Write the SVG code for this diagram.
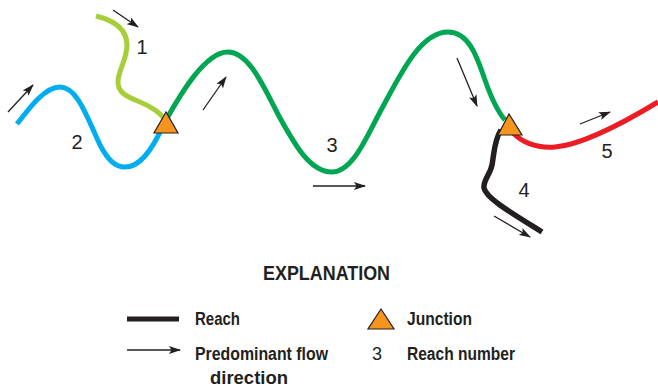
<svg xmlns="http://www.w3.org/2000/svg" width="658" height="389" viewBox="0 0 658 389">
<style>
.reach{fill:none;stroke-linecap:butt;stroke-linejoin:round}
.flow{stroke:#231f20;stroke-width:1.3;fill:none;marker-end:url(#ah)}
.junc{fill:#f7941d;stroke:#231f20;stroke-width:1.2;stroke-linejoin:miter}
.num{font-family:"Liberation Sans Narrow","Liberation Sans",Arial,sans-serif;font-size:20px;fill:#231f20;text-anchor:middle}
.leg{font-family:"Liberation Sans Narrow","Liberation Sans",Arial,sans-serif;font-size:18px;font-weight:bold;fill:#231f20}
</style>
<defs>
<marker id="ah" markerUnits="userSpaceOnUse" markerWidth="12" markerHeight="8" viewBox="0 0 12 8" refX="11" refY="4" orient="auto">
<path d="M0,0 L12,4 L0,8 L2.5,4 Z" fill="#231f20"/>
</marker>
</defs>
<g id="connectors">
<path id="reach2" class="reach" stroke="#00aeef" stroke-width="5" d="M17,124 C30,107 45,87 60,87 C78,87 88,120 100,145 C108,160 115,167 125,167 C140,167 152,150 163,126"/>
<path id="reach1" class="reach" stroke="#a6ce39" stroke-width="5" d="M96,16 C112,20 127,28 127,45 C127,60 118,70 118,82 C118,92 125,96 140,102 C152,107 160,112 165,120"/>
<path id="reach3" class="reach" stroke="#00a651" stroke-width="5" d="M166,120 C180,95 205,52 228,52 C250,52 265,90 280,118 C295,145 310,172 332,172 C352,172 365,140 380,112 C400,75 420,32 448,32 C470,32 478,60 485,80 C492,100 498,112 505,120"/>
<path id="reach5" class="reach" stroke="#ed1c24" stroke-width="5" d="M513,133 C525,145 540,148 555,147 C580,145 620,125 658,102"/>
<path id="reach4" class="reach" stroke="#231f20" stroke-width="5.5" d="M501,130 C494,140 494,155 492,165 C490,175 483,180 484,188 C486,198 510,212 542,232"/>
<line class="flow" x1="113" y1="10" x2="138" y2="27"/>
<line class="flow" x1="8" y1="112" x2="33" y2="85"/>
<line class="flow" x1="203" y1="110" x2="226" y2="77"/>
<line class="flow" x1="313" y1="186" x2="365" y2="186"/>
<line class="flow" x1="457" y1="58" x2="477" y2="106"/>
<line class="flow" x1="580" y1="124" x2="610" y2="112"/>
<line class="flow" x1="494" y1="216" x2="530" y2="237"/>
</g>
<g id="junction1"><polygon class="junc" points="166,112 154,133 178,133"/></g>
<g id="junction2"><polygon class="junc" points="509,114 498,135 522,135"/></g>
<g id="labels">
<text class="num" x="142" y="54">1</text>
<text class="num" x="77" y="149">2</text>
<text class="num" x="332" y="152">3</text>
<text class="num" x="524" y="197">4</text>
<text class="num" x="607" y="158">5</text>
</g>
<g id="legend">
<text class="leg" x="263" y="280" textLength="127" lengthAdjust="spacingAndGlyphs" style="font-size:21px">EXPLANATION</text>
<line x1="127" y1="319" x2="179" y2="319" stroke="#231f20" stroke-width="5"/>
<text class="leg" x="195" y="325" textLength="45" lengthAdjust="spacingAndGlyphs">Reach</text>
<polygon class="junc" points="381,309 368,329 394,329"/>
<text class="leg" x="407" y="325" textLength="65" lengthAdjust="spacingAndGlyphs">Junction</text>
<line class="flow" x1="127" y1="350" x2="180" y2="350"/>
<text class="leg" x="195" y="360" textLength="133" lengthAdjust="spacingAndGlyphs">Predominant flow</text>
<text class="leg" x="210" y="384" textLength="78" lengthAdjust="spacingAndGlyphs">direction</text>
<text class="num" x="377" y="360" style="font-size:18px">3</text>
<text class="leg" x="407" y="360" textLength="108" lengthAdjust="spacingAndGlyphs">Reach number</text>
</g>
</svg>
